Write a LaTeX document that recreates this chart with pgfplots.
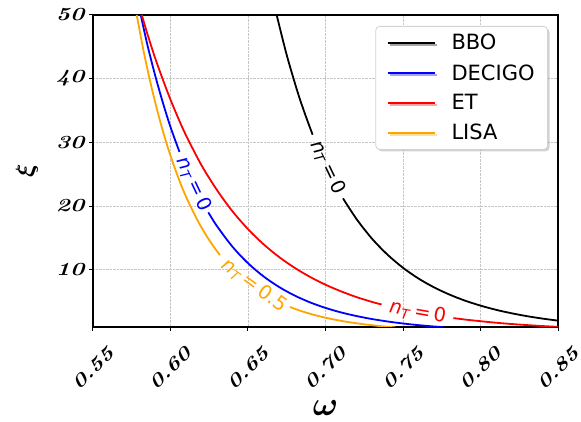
\documentclass[border=0pt]{standalone}
\usepackage{fontspec}
\usepackage{pgfplots}
\pgfplotsset{compat=1.18}
\usetikzlibrary{shadows}
\newfontfamily\dejavu{DejaVu Sans}
\definecolor{lorange}{RGB}{255,165,0}
\newcommand{\nT}[1]{\textit{n}\textsubscript{\textit{T}}\,=\,#1}
\begin{document}
\begin{tikzpicture}
\begin{axis}[
  name=ax,
  scale only axis,
  width=465pt, height=312pt,
  xmin=0.55, xmax=0.85, ymin=1, ymax=50,
  xtick={0.55,0.60,0.65,0.70,0.75,0.80,0.85},
  ytick={10,20,30,40,50},
  /pgf/number format/assume math mode=true,
  xticklabel style={/pgf/number format/fixed, /pgf/number format/precision=2, /pgf/number format/fixed zerofill,
    font=\fontsize{18.5}{21}\selectfont\bfseries\itshape, anchor=center, yshift=-37pt, rotate=45, xscale=1.3},
  yticklabel style={font=\fontsize{18.5}{21}\selectfont\bfseries\itshape, xscale=1.3},
  tick align=outside, major tick length=4pt,
  xtick pos=left, ytick pos=left,
  axis line style={line width=1.2pt},
  every tick/.style={black, line width=1pt},
  grid=major,
  grid style={densely dotted, gray!45, line width=0.8pt},
  xlabel={$\omega$}, ylabel={$\xi$},
  label style={font=\fontsize{24.88}{28}\selectfont\boldmath},
  xlabel style={at={(axis description cs:0.5,-0.26)}, anchor=center, scale=1.35},
  ylabel style={at={(axis description cs:-0.142,0.5)}, anchor=center},
  legend cell align=left,
  legend image code/.code={\draw[#1, line width=1.8pt] (0pt,0pt) -- (47pt,0pt);},
  legend style={at={(axis description cs:1,1)}, anchor=north east, xshift=-10pt, yshift=-11pt,
    draw=gray!35, rounded corners=4pt, fill=white, line width=0.8pt,
    drop shadow={shadow xshift=2pt, shadow yshift=-2pt, opacity=0.35},
    font=\dejavu\fontsize{21}{24}\selectfont, inner xsep=11pt, inner ysep=6pt,
    row sep=9pt, /tikz/every odd column/.append style={column sep=14pt}},
]
% BBO
\addplot[black, line width=1.8pt, smooth] coordinates {
 (0.6685,50) (0.6750,43.7) (0.6820,37.9) (0.6870,34.3) (0.6917,31.2)};
\addlegendentry{BBO}
% DECIGO
\addplot[blue, line width=1.8pt, smooth] coordinates {
 (0.5808,50) (0.5850,45.4) (0.5900,40.6) (0.5950,36.3) (0.6000,32.4) (0.6058,28.5)};
\addlegendentry{DECIGO}
% ET
\addplot[red, line width=1.8pt, smooth] coordinates {
 (0.5815,50) (0.5850,47.1) (0.5900,43.3) (0.5950,39.9) (0.6000,36.7) (0.6050,33.8) (0.6100,31.1)
 (0.6200,26.4) (0.6300,22.5) (0.6400,19.16) (0.6500,16.37) (0.6600,14.00) (0.6700,12.00)
 (0.6800,10.31) (0.6900,8.87) (0.7000,7.64) (0.7100,6.60) (0.7200,5.70) (0.7300,4.94) (0.7362,4.53)};
\addlegendentry{ET}
% LISA
\addplot[lorange, line width=1.8pt, smooth] coordinates {
 (0.5782,50) (0.5830,43.9) (0.5880,38.4) (0.5930,33.6) (0.5980,29.4) (0.6030,25.8) (0.6080,22.6)
 (0.6130,19.9) (0.6180,17.5) (0.6230,15.4) (0.6280,13.57) (0.6319,12.3)};
\addlegendentry{LISA}
% second segments
\addplot[black, line width=1.8pt, smooth, forget plot] coordinates {
 (0.7113,21.2) (0.7200,17.96) (0.7300,14.87) (0.7400,12.36) (0.7500,10.30) (0.7600,8.61)
 (0.7700,7.23) (0.7800,6.09) (0.7900,5.14) (0.8000,4.36) (0.8100,3.70) (0.8200,3.16)
 (0.8300,2.70) (0.8400,2.32) (0.8500,2.00)};
\addplot[blue, line width=1.8pt, smooth, forget plot] coordinates {
 (0.6244,19.0) (0.6300,16.84) (0.6400,13.60) (0.6500,11.02) (0.6600,8.95) (0.6700,7.29)
 (0.6800,5.95) (0.6900,4.87) (0.7000,4.00) (0.7100,3.29) (0.7200,2.72) (0.7300,2.25)
 (0.7400,1.87) (0.7500,1.55) (0.7600,1.29) (0.7700,1.08) (0.7739,1.01) (0.7760,0.97)};
\addplot[red, line width=1.8pt, smooth, forget plot] coordinates {
 (0.7825,2.40) (0.7900,2.17) (0.8000,1.91) (0.8100,1.67) (0.8200,1.47) (0.8300,1.30)
 (0.8400,1.15) (0.8500,1.02)};
\addplot[lorange, line width=1.8pt, smooth, forget plot] coordinates {
 (0.6771,4.14) (0.6850,3.45) (0.6950,2.75) (0.7050,2.20) (0.7150,1.76) (0.7250,1.42)
 (0.7350,1.15) (0.7416,1.00) (0.7450,0.94)};
% contour labels
\node[rotate=-64.3, text=black, font=\dejavu\fontsize{19.5}{21}\selectfont] at (axis cs:0.7015,26.0) {\nT{0}};
\node[rotate=-64.6, text=blue, font=\dejavu\fontsize{19.5}{21}\selectfont] at (axis cs:0.6150,23.4) {\nT{0}};
\node[rotate=-36, text=lorange, font=\dejavu\fontsize{19.5}{21}\selectfont] at (axis cs:0.6542,7.5) {\nT{0.5}};
\node[rotate=-10, text=red, font=\dejavu\fontsize{19.5}{21}\selectfont] at (axis cs:0.7595,3.3) {\nT{0}};
\end{axis}
\pgfresetboundingbox
\path (ax.south west) ++(-93pt,-95pt) rectangle ++(581pt,422pt);
\end{tikzpicture}
\end{document}
